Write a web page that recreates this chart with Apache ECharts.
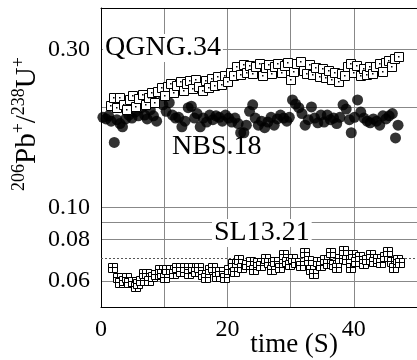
<!DOCTYPE html>
<html><head><meta charset="utf-8">
<script src="https://cdn.jsdelivr.net/npm/echarts@6/dist/echarts.min.js"></script>
<style>html,body{margin:0;padding:0;background:#fff}#c{width:417px;height:360px}</style>
</head><body><div id="c"></div>
<script>
const qgngTime = [1.5,2,2.5,3,3.5,4,4.5,5,5.5,6,6.5,7,7.5,8,8.5,9,9.5,10,10.5,11,11.5,12,12.5,13,13.5,14,14.5,15,15.5,16,16.5,17,17.5,18,18.5,19,19.5,20,20.5,21,21.5,22,22.5,23,23.5,24,24.5,25,25.5,26,26.5,27,27.5,28,28.5,29,29.5,30,30.5,31,31.5,32,32.5,33,33.5,34,34.5,35,35.5,36,36.5,37,37.5,38,38.5,39,39.5,40,40.5,41,41.5,42,42.5,43,43.5,44,44.5,45,45.5,46,46.5,47];
const qgngValues = [0.203,0.214,0.200,0.215,0.205,0.198,0.212,0.217,0.202,0.213,
0.219,0.205,0.215,0.222,0.208,0.224,0.230,0.217,0.231,0.236,
0.222,0.233,0.240,0.226,0.236,0.242,0.228,0.244,0.232,0.226,
0.241,0.230,0.245,0.233,0.248,0.235,0.251,0.240,0.255,0.250,
0.266,0.252,0.270,0.255,0.269,0.253,0.267,0.272,0.251,0.265,
0.270,0.254,0.266,0.271,0.255,0.268,0.274,0.243,0.258,0.272,
0.275,0.259,0.254,0.270,0.252,0.265,0.249,0.262,0.246,0.259,
0.243,0.256,0.240,0.253,0.250,0.266,0.271,0.256,0.268,0.251,
0.263,0.252,0.266,0.254,0.267,0.271,0.258,0.274,0.278,0.267,
0.282,0.285];

const nbsTime = [0.3,0.8,1.2,1.6,2.1,2.5,3.0,3.4,3.9,4.4,4.9,5.4,5.9,6.4,6.9,7.3,7.8,8.3,8.8,9.4,9.8,10.3,10.8,11.3,11.8,12.3,12.8,13.3,13.8,14.3,14.8,15.2,15.7,16.2,16.7,17.2,17.7,18.2,18.7,19.2,19.7,20.2,20.7,21.2,21.7,22.1,22.6,23.0,23.5,24.0,24.4,24.9,25.4,25.9,26.4,26.9,27.4,27.9,28.4,28.9,29.4,29.8,30.3,30.8,31.3,31.8,32.3,32.8,33.3,33.8,34.3,34.8,35.3,35.8,36.3,36.8,37.3,37.8,38.3,38.8,39.3,39.6,40.1,40.6,41.1,41.6,42.1,42.6,43.1,43.6,44.1,44.6,45.1,45.6,46.1,46.6,47.0];
const nbsValues = [0.187,0.185,0.189,0.182,0.157,0.184,0.179,0.175,0.185,0.190,0.186,0.194,0.189,0.200,0.190,0.185,0.197,0.189,0.182,0.222,0.204,0.195,0.207,0.190,0.186,0.187,0.175,0.182,0.200,0.202,0.186,0.192,0.175,0.186,0.181,0.190,0.184,0.189,0.187,0.182,0.190,0.186,0.181,0.186,0.179,0.168,0.168,0.177,0.195,0.204,0.186,0.177,0.182,0.174,0.181,0.187,0.177,0.185,0.190,0.186,0.182,0.187,0.211,0.205,0.200,0.192,0.177,0.184,0.201,0.186,0.180,0.190,0.181,0.190,0.184,0.186,0.179,0.187,0.204,0.198,0.184,0.168,0.187,0.211,0.194,0.186,0.182,0.180,0.185,0.182,0.177,0.189,0.185,0.189,0.192,0.162,0.177];

const slTime = [1.8,2.6,3.0,3.5,4.0,4.4,5.0,5.4,5.8,6.2,6.8,7.2,7.5,8.2,8.7,9.2,9.5,10.0,10.4,11.0,11.5,12.0,12.5,13.2,13.8,14.5,15.0,15.5,16.0,16.6,17.2,17.6,18.2,18.8,19.5,20.2,20.8,21.2,21.8,22.3,23.0,23.6,24.2,24.8,25.3,26.0,26.5,27.0,27.5,28.2,28.8,29.3,29.8,30.3,30.8,31.5,32.2,32.8,33.2,33.7,34.2,34.8,35.3,35.8,36.3,36.8,37.3,37.8,38.4,38.9,39.4,39.8,40.3,40.9,41.5,42.0,42.6,43.1,43.7,44.2,44.8,45.3,45.9,46.3,46.9,47.3];
const slValues = [0.0656,0.0616,0.0591,0.0603,0.0612,0.0591,0.0599,0.0575,0.0587,0.0603,0.0629,0.0633,0.0603,0.0620,0.0625,0.0647,0.0633,0.0616,0.0647,0.0647,0.0629,0.0660,0.0638,0.0656,0.0629,0.0656,0.0638,0.0660,0.0625,0.0616,0.0647,0.0656,0.0620,0.0638,0.0616,0.0647,0.0675,0.0638,0.0694,0.0656,0.0670,0.0684,0.0647,0.0679,0.0665,0.0703,0.0679,0.0647,0.0684,0.0660,0.0718,0.0684,0.0670,0.0703,0.0679,0.0665,0.0728,0.0689,0.0647,0.0633,0.0684,0.0665,0.0698,0.0675,0.0728,0.0670,0.0656,0.0703,0.0743,0.0694,0.0660,0.0718,0.0684,0.0708,0.0675,0.0694,0.0718,0.0684,0.0703,0.0679,0.0708,0.0733,0.0684,0.0660,0.0694,0.0679];

const yTickLabels = [0.06, 0.08, 0.10, 0.30];
const yGridValues = [0.05, 0.06, 0.08, 0.09, 0.1, 0.2, 0.3, 0.4];
const yDottedValue = 0.07;
const xTickLabels = [0, 20, 40];

const FONT = "'Liberation Serif', 'DejaVu Serif', serif";
const zip = (a, b) => a.map((t, i) => [t, b[i]]);

function squareItem(kind) {
  return function (params, api) {
    const p = api.coord([api.value(0), api.value(1)]);
    const s = 9;
    const x = Math.round(p[0] - s / 2) + 0.5, y = Math.round(p[1] - s / 2) + 0.5;
    const c = 4;
    const children = [{ type: 'rect', shape: { x: x, y: y, width: s, height: s }, style: { fill: '#fff', stroke: '#000', lineWidth: 1 } }];
    if (kind === 'dot') {
      children.push({ type: 'rect', shape: { x: x + c - 0.5, y: y + c - 0.5, width: 1.5, height: 1.5 }, style: { fill: '#000' } });
    } else {
      children.push({ type: 'line', shape: { x1: x, y1: y + c, x2: x + s, y2: y + c }, style: { stroke: '#000', lineWidth: 1 } });
      children.push({ type: 'line', shape: { x1: x + c, y1: y, x2: x + c, y2: y + s }, style: { stroke: '#000', lineWidth: 1 } });
    }
    return { type: 'group', children: children };
  };
}

const chart = echarts.init(document.getElementById('c'), null, { renderer: 'canvas' });
chart.setOption({
  animation: false,
  backgroundColor: '#fff',
  grid: { left: 101, top: 8, width: 320, height: 299 },
  xAxis: [{
    type: 'value', min: 0, max: 50, interval: 10,
    axisLine: { show: true, onZero: false, lineStyle: { color: '#000', width: 1 } },
    axisTick: { show: false },
    splitLine: { show: true, lineStyle: { color: '#888', width: 1 } },
    axisLabel: { customValues: xTickLabels, fontFamily: FONT, fontSize: 24, color: '#000', margin: 11 }
  }, {
    type: 'value', position: 'top', min: 0, max: 50,
    axisLine: { show: true, onZero: false, lineStyle: { color: '#000', width: 1 } },
    axisTick: { show: false }, axisLabel: { show: false }, splitLine: { show: false }
  }],
  yAxis: {
    type: 'log', logBase: 10, min: 0.05, max: 0.4,
    axisLine: { show: true, onZero: false, lineStyle: { color: '#000', width: 1 } },
    axisTick: { show: false, customValues: yGridValues },
    splitLine: { show: true, lineStyle: { color: '#888', width: 1 } },
    axisLabel: { customValues: yTickLabels, formatter: v => Number(v).toFixed(2), fontFamily: FONT, fontSize: 24, color: '#000', margin: 11 }
  },
  series: [
    { name: 'NBS.18', type: 'scatter', symbol: 'circle', symbolSize: 11, itemStyle: { color: '#000' }, data: zip(nbsTime, nbsValues), z: 3 },
    { name: 'QGNG.34', type: 'custom', renderItem: squareItem('dot'), data: zip(qgngTime, qgngValues), z: 4 },
    { name: 'SL13.21', type: 'custom', renderItem: squareItem('cross'), data: zip(slTime, slValues), z: 4,
      markLine: { silent: true, symbol: 'none', label: { show: false }, z: 1,
        lineStyle: { type: [2, 2], color: '#555', width: 1 }, data: [{ yAxis: yDottedValue }] } }
  ],
  graphic: [
    { type: 'text', x: 103, y: 48, z: 10, style: { text: 'QGNG.34', fontFamily: FONT, fontSize: 28, fill: '#000', align: 'left', verticalAlign: 'middle', backgroundColor: '#fff', padding: [0, 2] } },
    { type: 'text', x: 172, y: 147, z: 10, style: { text: 'NBS.18', fontFamily: FONT, fontSize: 28, fill: '#000', align: 'left', verticalAlign: 'middle' } },
    { type: 'text', x: 212, y: 233, z: 10, style: { text: 'SL13.21', fontFamily: FONT, fontSize: 28, fill: '#000', align: 'left', verticalAlign: 'middle', backgroundColor: '#fff', padding: [0, 2] } },
    { type: 'text', x: 294, y: 345, z: 10, style: { text: 'time (S)', fontFamily: FONT, fontSize: 27, fill: '#000', align: 'center', verticalAlign: 'middle' } },
    { type: 'text', x: 26, y: 124, rotation: Math.PI / 2, z: 10, style: {
        text: '{s|206}{m|Pb}{s|+}{m|/}{s|238}{m|U}{s|+}', align: 'center', verticalAlign: 'middle', fill: '#000',
        rich: {
          m: { fontFamily: FONT, fontSize: 29, lineHeight: 32, verticalAlign: 'bottom', fill: '#000' },
          s: { fontFamily: FONT, fontSize: 18, lineHeight: 20, verticalAlign: 'top', fill: '#000' }
        } } }
  ]
});
</script>
</body></html>
